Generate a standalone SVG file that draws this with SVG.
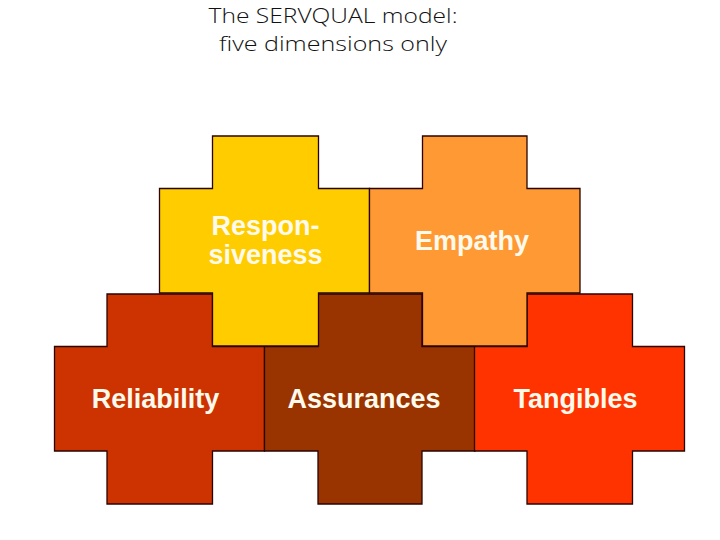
<svg xmlns="http://www.w3.org/2000/svg" width="720" height="540" viewBox="0 0 720 540">
  <style>
    .piece { stroke: #2a0500; stroke-width: 1.3; stroke-linejoin: miter; }
    .label { font-family: "Liberation Sans", Arial, sans-serif; font-weight: bold; font-size: 27px; fill: #FFFAEB; text-anchor: middle; }
    .title { font-family: "Open Sans", "Noto Sans", sans-serif; font-weight: 300; font-size: 21px; fill: #111111; text-anchor: middle; }
  </style>
  <rect x="0" y="0" width="720" height="540" fill="#FFFFFF"/>
  <g id="title">
    <text class="title" x="333" y="23" textLength="249" lengthAdjust="spacingAndGlyphs">The SERVQUAL model:</text>
    <text class="title" x="333" y="51" textLength="228" lengthAdjust="spacingAndGlyphs">five dimensions only</text>
  </g>
  <g id="reliability">
    <path class="piece" fill="#CC3300" d="M107,294 H212.5 V346.5 H264.5 V451 H212.5 V504 H107 V451 H54.5 V346.5 H107 Z"/>
    <text class="label" x="155.5" y="408">Reliability</text>
  </g>
  <g id="assurances">
    <path class="piece" fill="#993300" d="M318,294 H422 V346.5 H475 V451 H422 V504 H318 V451 H264.5 V346.5 H318 Z"/>
    <text class="label" x="364" y="408">Assurances</text>
  </g>
  <g id="tangibles">
    <path class="piece" fill="#FF3300" d="M527,294 H632.5 V346.5 H684.5 V451 H632.5 V504 H527 V451 H474.5 V346.5 H527 Z"/>
    <text class="label" x="575.5" y="408">Tangibles</text>
  </g>
  <g id="responsiveness">
    <path class="piece" fill="#FFCC00" d="M212.5,136 H318.5 V188.5 H369.5 V293 H318.5 V346 H212.5 V293 H159.5 V188.5 H212.5 Z"/>
    <text class="label" x="265.5" y="235">Respon-</text>
    <text class="label" x="265.5" y="264">siveness</text>
  </g>
  <g id="empathy">
    <path class="piece" fill="#FF9933" d="M422.5,136 H527 V188.5 H580 V293 H527 V346 H422.5 V293 H369.5 V188.5 H422.5 Z"/>
    <text class="label" x="472" y="250">Empathy</text>
  </g>
  <g id="connectors"/>
</svg>
